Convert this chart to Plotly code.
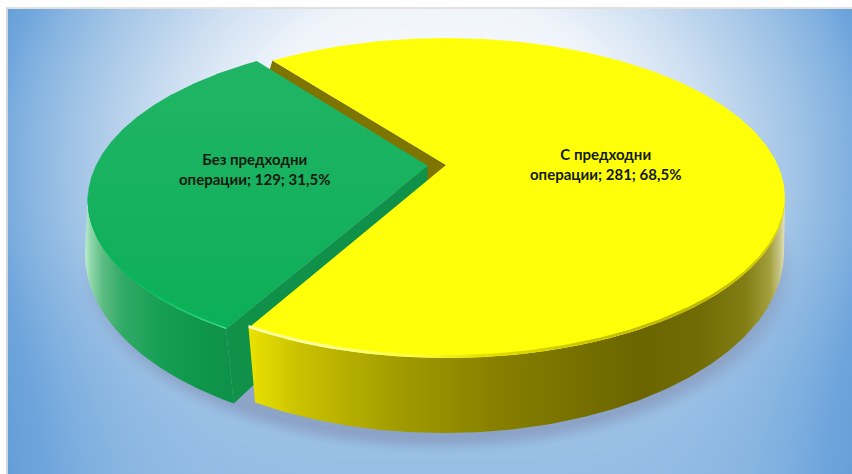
import base64
import struct
import zlib

import numpy as np
import plotly.graph_objects as go

# Chart data
CATEGORIES = ["С предходни операции", "Без предходни операции"]
VALUES = [281, 129]
LABEL_LINES = [("С предходни", "операции"), ("Без предходни", "операции")]
LABEL_POS = [(605, 163.5), (254, 168.5)]

WIDTH, HEIGHT = 852, 474
START_ANGLE = 322.5      # clockwise from 12 o'clock, first slice
EXPLODE = 0.055

# Perspective planes of the disc: top face and bottom face
TOP = dict(cx=446, cy=198, rx=339, ry=160, k=0.206)
BOTTOM = dict(cx=444, cy=252, rx=340, ry=181, k=0.15)


def project(theta, plane, radius=1.0, centre=(0.0, 0.0)):
    """Map clockwise angles on the disc to page pixels through a perspective plane."""
    t = np.radians(theta)
    u = radius * np.sin(t) + centre[0]
    v = radius * np.cos(t) + centre[1]
    w = 1 + plane["k"] * v
    c = plane["rx"] * np.sqrt(1 - plane["k"] ** 2)
    x = plane["cx"] + c * u / w
    y = plane["cy"] - (plane["ry"] * v + plane["k"] * plane["ry"]) / w
    return x, y


def arc(a0, a1, plane, centre=(0.0, 0.0), n=160):
    return project(np.linspace(a0, a1, n), plane, 1.0, centre)


def stops(*pairs):
    lo, hi = pairs[0][0], pairs[-1][0]
    return [[(p - lo) / (hi - lo), col] for p, col in pairs]


def interp_stops(d, pts):
    xs = [p[0] for p in pts]
    return np.stack([np.interp(d, xs, [p[1][i] for p in pts]) for i in range(3)], axis=-1)


def background_uri():
    """Radial backdrop with the soft cast shadow of the disc, encoded as PNG."""
    yy, xx = np.mgrid[0:HEIGHT, 0:WIDTH].astype(float)
    dx = np.abs(xx - 430) / 480
    upper = np.hypot(dx, np.abs(yy - 150) / 415)
    # The lower half levels off into a nearly flat blue band
    dy_low = 0.82 * (1 - np.exp(-np.clip(yy - 150, 0, None) / 90))
    lower = (dx ** 5 + dy_low ** 5) ** 0.2
    d = np.where(yy < 150, upper, lower)
    rgb = interp_stops(d, [
        (0.0, (255, 255, 255)), (0.4, (240, 245, 251)), (0.57, (207, 224, 242)),
        (0.77, (159, 195, 230)), (0.88, (128, 176, 224)), (0.93, (110, 165, 220)),
        (1.0, (98, 156, 214)), (1.25, (95, 155, 213)),
    ])
    ds = np.hypot((xx - 434) / 366, (yy - 268) / 186)
    t = np.clip((1.0 - ds) / 0.1, 0, 1)
    a = (t * t * (3 - 2 * t) * 0.5)[..., None]
    rgb = rgb * (1 - a) + np.array([125, 135, 170]) * a
    img = np.clip(rgb, 0, 255).astype(np.uint8)
    raw = b"".join(b"\x00" + row.tobytes() for row in img)

    def chunk(tag, body):
        return struct.pack(">I", len(body)) + tag + body + struct.pack(">I", zlib.crc32(tag + body))

    png = (b"\x89PNG\r\n\x1a\n"
           + chunk(b"IHDR", struct.pack(">IIBBBBB", WIDTH, HEIGHT, 8, 2, 0, 0, 0))
           + chunk(b"IDAT", zlib.compress(raw, 9))
           + chunk(b"IEND", b""))
    return "data:image/png;base64," + base64.b64encode(png).decode()


def poly(x, y, color=None, gradient=None):
    x = np.asarray(x)
    y = np.asarray(y)
    kw = dict(fillgradient=gradient) if gradient else dict(fillcolor=color)
    return go.Scatter(x=np.r_[x, x[0]], y=np.r_[y, y[0]], mode="lines", fill="toself",
                      line=dict(width=0), hoverinfo="skip", showlegend=False, **kw)


total = sum(VALUES)
sweeps = [360 * v / total for v in VALUES]
y_a0 = START_ANGLE
y_a1 = START_ANGLE + sweeps[0]          # shared edge on the near side
g_a0 = y_a1
g_a1 = g_a0 + sweeps[1]
g_mid = np.radians((g_a0 + g_a1) / 2)
g_centre = (EXPLODE * np.sin(g_mid), EXPLODE * np.cos(g_mid))

traces = []

# Yellow slice, inner wall facing the gap
ax, ay = project(0.0, TOP, 0.0)
bx, by = project(0.0, BOTTOM, 0.0)
cx_, cy_ = project(y_a0, TOP)
dx_, dy_ = project(y_a0, BOTTOM)
traces.append(poly([ax, cx_, dx_, bx], [ay, cy_, dy_, by], color="#7d7500"))

# Green slice, outer wall up to its left silhouette
gtx, gty = arc(g_a0, g_a0 + 49, TOP, g_centre)
gbx, gby = arc(g_a0, g_a0 + 52, BOTTOM, g_centre)
traces.append(poly(np.r_[gtx, gbx[::-1]], np.r_[gty, gby[::-1]], gradient=dict(
    type="horizontal", start=84, stop=240,
    colorscale=stops((84, "#c4f0d6"), (91, "#8ed6aa"), (103, "#5cbc82"), (122, "#32aa68"),
                     (160, "#169f54"), (195, "#0f974b"), (240, "#0d9048")))))

# Green slice, inner wall beside the gap
gax, gay = project(0.0, TOP, 0.0, g_centre)
gbx0, gby0 = project(0.0, BOTTOM, 0.0, g_centre)
g1x, g1y = project(g_a0, TOP, 1.0, g_centre)
g2x, g2y = project(g_a0, BOTTOM, 1.0, g_centre)
traces.append(poly([gax, g1x, g2x, gbx0], [gay, g1y, g2y, gby0], color="#0f9149"))

# Green slice, top face
gx, gy = arc(g_a0, g_a1, TOP, g_centre, 220)
traces.append(poly(np.r_[gax, gx], np.r_[gay, gy], gradient=dict(
    type="vertical", start=60, stop=330,
    colorscale=[[0, "#20b564"], [0.6, "#15b15e"], [1, "#0cae58"]])))

# Green slice, bevel along the near edge
bx_, by_ = arc(g_a0, g_a0 + 50, TOP, g_centre)
traces.append(poly(np.r_[bx_, bx_[::-1]], np.r_[by_, (by_ - 5)[::-1]], color="#0ab45a"))
traces.append(poly(np.r_[bx_, bx_[::-1]], np.r_[by_, (by_ - 1.3)[::-1]], gradient=dict(
    type="horizontal", start=85, stop=232,
    colorscale=stops((85, "#0ab45a"), (150, "#10bd66"), (200, "#33d58a"), (232, "#64e5ac")))))

# Yellow slice, outer wall up to its right silhouette
ytx, yty = arc(y_a1 - 107, y_a1, TOP)
ybx, yby = arc(y_a1 - 110, y_a1, BOTTOM)
traces.append(poly(np.r_[ytx, ybx[::-1]], np.r_[yty, yby[::-1]], gradient=dict(
    type="horizontal", start=250, stop=786,
    colorscale=stops((250, "#eae200"), (300, "#c9c100"), (400, "#a19b00"), (500, "#867f00"),
                     (640, "#6b6500"), (700, "#716c06"), (745, "#827e14"), (770, "#a3a03e"),
                     (780, "#c8c688"), (786, "#ecebc8")))))

# Yellow slice, top face
yx, yy_ = arc(y_a0, y_a1, TOP, n=300)
traces.append(poly(np.r_[ax, yx], np.r_[ay, yy_], color="#ffff0a"))

# Yellow slice, bevel along the near edge
rx_, ry_ = arc(y_a1 - 107, y_a1, TOP)
traces.append(poly(np.r_[rx_, rx_[::-1]], np.r_[ry_, (ry_ - 3)[::-1]], gradient=dict(
    type="horizontal", start=250, stop=786,
    colorscale=stops((250, "#ffffa8"), (330, "#ffff90"), (420, "#ffff30"), (480, "#e6e000"),
                     (600, "#c8c200"), (700, "#bdb700"), (786, "#d8d400")))))

fig = go.Figure(traces)

# Value labels, decimal comma as in the source language
for (l1, l2), value, (lx, ly) in zip(LABEL_LINES, VALUES, LABEL_POS):
    pct = f"{100 * value / total:.1f}".replace(".", ",")
    fig.add_annotation(x=lx, y=ly, xref="x", yref="y", showarrow=False, align="center",
                       text=f"{l1}<br>{l2}; {value}; {pct}%",
                       font=dict(family="Lato", size=15, color="#141a10", weight="bold"))

fig.update_layout(
    width=WIDTH, height=HEIGHT, margin=dict(l=0, r=0, t=0, b=0),
    paper_bgcolor="white", plot_bgcolor="rgba(0,0,0,0)", showlegend=False,
    xaxis=dict(range=[0, WIDTH], visible=False, fixedrange=True),
    yaxis=dict(range=[HEIGHT, 0], visible=False, fixedrange=True),
    images=[dict(source=background_uri(), xref="x", yref="y", x=8, y=9,
                 sizex=WIDTH - 8, sizey=HEIGHT - 9, sizing="stretch",
                 xanchor="left", yanchor="top", layer="below")],
    shapes=[
        dict(type="line", x0=7, x1=7, y0=8, y1=HEIGHT, line=dict(color="#cfd6de", width=2), layer="below"),
        dict(type="line", x0=6, x1=WIDTH, y0=8, y1=8, line=dict(color="#d6d6d6", width=1.5), layer="below"),
    ],
)

fig.write_html("out.html", config=dict(displayModeBar=False))
